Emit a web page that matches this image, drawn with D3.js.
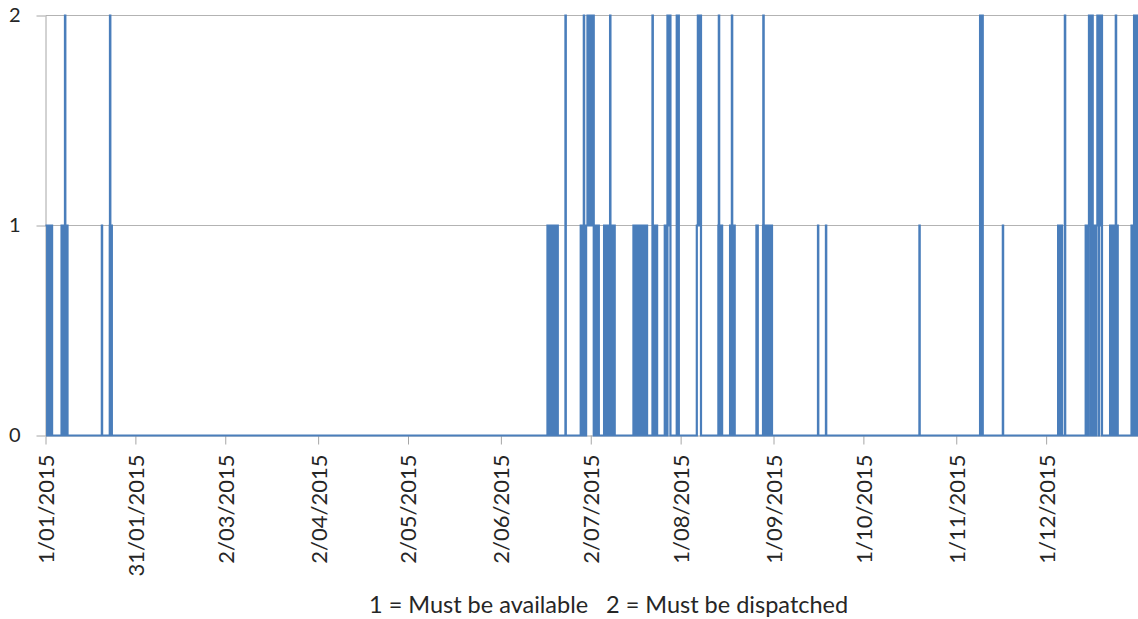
<!DOCTYPE html>
<html>
<head>
<meta charset="utf-8">
<script src="https://cdn.jsdelivr.net/npm/d3@7"></script>
<style>
  body { margin: 0; background: #fff; }
  svg text { font-family: Lato, "Open Sans", sans-serif; fill: #262626; font-variant-numeric: tabular-nums; }
</style>
</head>
<body>
<div id="chart"></div>
<script>
// periods in days since 1/01/2015 00:00
var mustBeAvailable = [
  [0.0, 0.55], [0.95, 1.55], [1.75, 2.2],
  [5.35, 5.9], [6.2, 6.75], [6.9, 7.35],
  [18.8, 18.9],
  [21.45, 22.15],
  [167.55, 168.1], [168.5, 169.05], [169.45, 170.0], [170.4, 171.0],
  [178.65, 179.2], [179.55, 180.1], [180.45, 181.0], [181.35, 181.9], [182.25, 182.8], [183.15, 183.7], [184.1, 184.7],
  [186.45, 187.0], [187.35, 187.9], [188.25, 188.8], [189.15, 189.6], [189.75, 190.0],
  [196.25, 196.8], [197.15, 197.7], [198.05, 198.6], [198.95, 199.5], [199.85, 200.35], [200.5, 200.8],
  [202.6, 203.15], [203.55, 204.15],
  [206.7, 207.3], [207.6, 208.6],
  [217.4, 218.8],
  [224.6, 225.2], [225.4, 225.85],
  [228.5, 229.05], [229.45, 230.05],
  [237.3, 237.75],
  [239.5, 240.05], [240.4, 240.95], [241.3, 241.85], [242.05, 242.5],
  [257.85, 257.95],
  [260.5, 260.6],
  [291.7, 291.8],
  [319.55, 319.65],
  [338.0, 338.6], [338.85, 339.3],
  [347.2, 347.75], [348.1, 348.65], [349.0, 349.55], [349.9, 350.45], [350.8, 351.35], [351.7, 352.2], [352.35, 352.65],
  [355.35, 355.9], [356.25, 356.8], [357.15, 357.6], [357.7, 357.9],
  [362.5, 363.05], [363.4, 363.95], [364.3, 364.85]
];

var mustBeDispatched = [
  [6.5, 6.62],
  [21.52, 21.64],
  [173.55, 173.67],
  [179.68, 179.8],
  [180.9, 181.45], [181.75, 182.3], [182.55, 183.0],
  [188.45, 188.57],
  [202.6, 202.72],
  [207.6, 208.1], [208.3, 208.6],
  [210.7, 211.4],
  [217.75, 218.3], [218.45, 218.8],
  [224.75, 224.87],
  [229.1, 229.22],
  [239.6, 239.72],
  [311.95, 312.4], [312.5, 312.85],
  [340.25, 340.37],
  [348.3, 348.85], [349.1, 349.55],
  [351.1, 351.65], [351.95, 352.35], [352.45, 352.65],
  [357.25, 357.37],
  [363.35, 363.9], [364.2, 364.75]
];

var tickLabels = ["1/01/2015", "31/01/2015", "2/03/2015", "2/04/2015", "2/05/2015", "2/06/2015",
                  "2/07/2015", "1/08/2015", "1/09/2015", "1/10/2015", "1/11/2015", "1/12/2015"];
var yTicks = [0, 1, 2];
var legendItems = ["1 = Must be available", "2 = Must be dispatched"];

var w = 1138, h = 619;
var plotLeft = 45.5, plotRight = 1139, plotTop = 15.5, plotBottom = 435.5;

var parseDate = d3.utcParse("%d/%m/%Y");
var start = Date.UTC(2015, 0, 1);
function toDate(days) { return new Date(start + days * 864e5); }

var x = d3.scaleUtc()
    .domain([toDate(0), toDate(365)])
    .range([plotLeft, plotRight]);

var y = d3.scaleLinear()
    .domain([0, 2])
    .range([plotBottom, plotTop]);

var svg = d3.select("#chart")
    .append("svg")
    .attr("width", w)
    .attr("height", h);

// gridlines
svg.append("g")
    .selectAll("line")
    .data(yTicks.filter(d => d > 0))
    .enter()
    .append("line")
    .attr("x1", plotLeft)
    .attr("x2", w)
    .attr("y1", d => y(d))
    .attr("y2", d => y(d))
    .attr("stroke", "#b3b3b3")
    .attr("stroke-width", 1);

// y axis
var yAxis = svg.append("g")
    .attr("transform", `translate(${plotLeft},0)`)
    .call(d3.axisLeft(y).tickValues(yTicks).tickSize(9).tickSizeOuter(0).tickFormat(d3.format("d")));
yAxis.selectAll("path, line").attr("stroke", "#a6a6a6");
yAxis.selectAll("text")
    .attr("x", -25)
    .attr("font-size", 20);

// x axis
var xAxis = svg.append("g")
    .attr("transform", `translate(0,${plotBottom})`)
    .call(d3.axisBottom(x)
        .tickValues(tickLabels.map(parseDate))
        .tickSize(9)
        .tickSizeOuter(0)
        .tickFormat((d, i) => tickLabels[i]));
xAxis.selectAll("path, line").attr("stroke", "#a6a6a6");
xAxis.selectAll("text")
    .attr("transform", "rotate(-90)")
    .attr("x", -19)
    .attr("y", 0)
    .attr("dy", "0.36em")
    .attr("font-size", 22)
    .style("text-anchor", "end");

// step series built from the periods
var events = mustBeAvailable.map(d => ({s: d[0], e: d[1], v: 1}))
    .concat(mustBeDispatched.map(d => ({s: d[0], e: d[1], v: 2})));
var cuts = Array.from(new Set([0, 365].concat(events.flatMap(d => [d.s, d.e]))))
    .sort((a, b) => a - b);
var steps = cuts.map(t => ({
    t: t,
    v: d3.max(events, d => (d.s <= t && t < d.e) ? d.v : 0)
}));

var line = d3.line()
    .x(d => x(toDate(d.t)))
    .y(d => y(d.v))
    .curve(d3.curveStepAfter);

svg.append("path")
    .datum(steps)
    .attr("d", line)
    .attr("fill", "none")
    .attr("stroke", "#4a7ebb")
    .attr("stroke-width", 2.2)
    .attr("stroke-linejoin", "miter");

// legend note
svg.append("text")
    .attr("x", 369)
    .attr("y", 613)
    .attr("font-size", 23.5)
    .text(legendItems[0]);
svg.append("text")
    .attr("x", 606)
    .attr("y", 613)
    .attr("font-size", 23.5)
    .text(legendItems[1]);
</script>
</body>
</html>
